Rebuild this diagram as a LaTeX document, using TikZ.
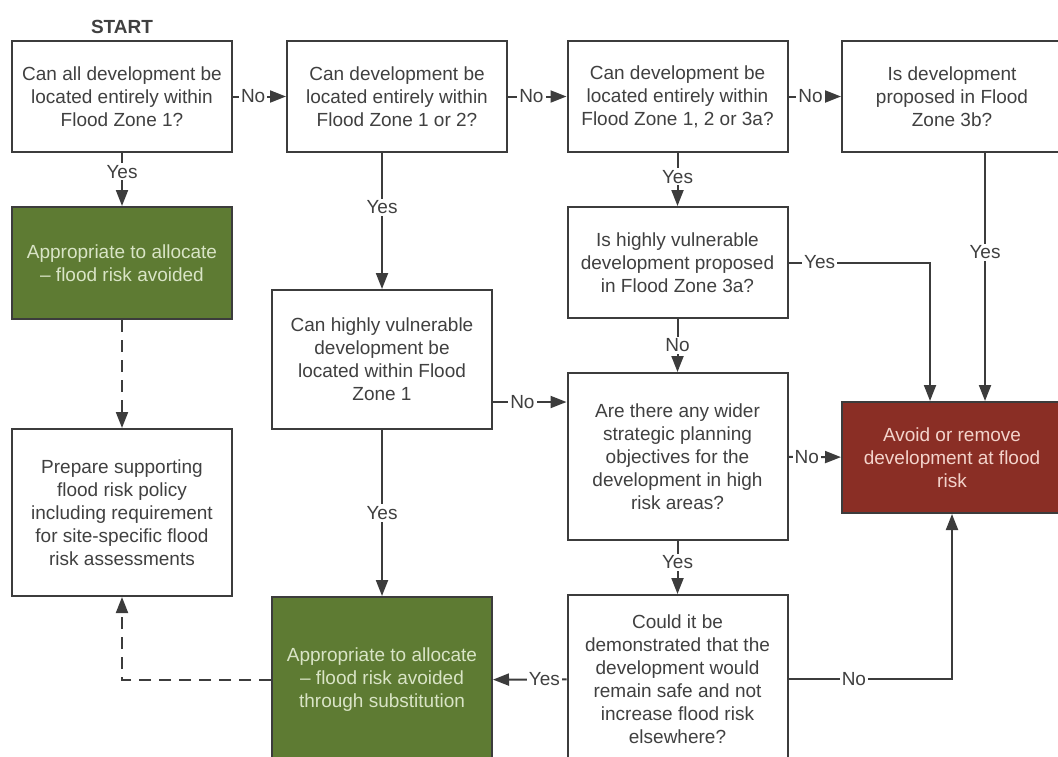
\documentclass[tikz,border=0pt]{standalone}
\usepackage{fontspec}
\setmainfont{Liberation Sans}
\usetikzlibrary{arrows.meta,positioning}
\definecolor{linegray}{HTML}{3C3C3C}
\definecolor{textgray}{HTML}{404040}
\definecolor{okgreen}{HTML}{5E7B33}
\definecolor{oktext}{HTML}{D9E4C6}
\definecolor{badred}{HTML}{8A2E25}
\definecolor{badtext}{HTML}{F3D3CB}
\begin{document}
\begin{tikzpicture}[x=0.5pt,y=-0.5pt,line width=1pt,color=linegray]
\tikzstyle{qbox}=[rectangle, draw=linegray, line width=1pt, fill=white,
text=textgray, align=center, inner sep=2pt,
minimum width=110pt, minimum height=55.5pt,
font=\fontsize{9.5}{11.5}\selectfont]
\tikzstyle{gbox}=[qbox, fill=okgreen, text=oktext]
\tikzstyle{rbox}=[qbox, fill=badred, text=badtext]
\tikzstyle{lbl}=[fill=white, inner sep=1pt, text=textgray,
font=\fontsize{9.5}{11.5}\selectfont]
\tikzstyle{dashline}=[dash pattern=on 6pt off 4pt]
\tikzset{>={Triangle[length=8pt,width=6pt]}}
\clip (0,0) rectangle (1058,756);

\node[text=textgray, font=\fontsize{9.5}{11.5}\selectfont\bfseries] at (122,27) (start) {START};
\node[qbox] at (122,96.5) (q1) {Can all development be\\located entirely within\\Flood Zone 1?};
\node[qbox] at (397,96.5) (q2) {Can development be\\located entirely within\\Flood Zone 1 or 2?};
\node[qbox] at (677.5,96.5) (q3) {Can development be\\located entirely within\\Flood Zone 1, 2 or 3a?};
\node[qbox] at (952,96.5) (q4) {Is development\\proposed in Flood\\Zone 3b?};
\node[gbox,minimum height=56pt] at (122,263) (g1) {Appropriate to allocate\\-- flood risk avoided};
\node[qbox] at (677.5,262.5) (q5) {Is highly vulnerable\\development proposed\\in Flood Zone 3a?};
\node[qbox,minimum height=69.5pt] at (382,359.5) (q6) {Can highly vulnerable\\development be\\located within Flood\\Zone 1};
\node[qbox,minimum height=83.5pt] at (677.5,456.5) (q7) {Are there any wider\\strategic planning\\objectives for the\\development in high\\risk areas?};
\node[rbox] at (952,457.5) (r) {Avoid or remove\\development at flood\\risk};
\node[qbox,minimum height=83.5pt] at (122,512.5) (p) {Prepare supporting\\flood risk policy\\including requirement\\for site-specific flood\\risk assessments};
\node[gbox,minimum height=83pt] at (382,680) (g2) {Appropriate to allocate\\-- flood risk avoided\\through substitution};
\node[qbox,minimum height=84pt] at (677.5,679) (q8) {Could it be\\demonstrated that the\\development would\\remain safe and not\\increase flood risk\\elsewhere?};

\path[->] (q1) edge node[lbl,pos=0.38] {No} (q2) ;
\path[->] (q2) edge node[lbl,pos=0.4] {No} (q3) ;
\path[->] (q3) edge node[lbl,pos=0.42] {No} (q4) ;
\path[->] (q1) edge node[lbl,pos=0.35] {Yes} (g1) ;
\path[->] (q3) edge node[lbl,pos=0.45] {Yes} (q5) ;
\path[->] (q5) edge node[lbl,pos=0.5] {No} (q7) ;
\path[->] (q7) edge node[lbl,pos=0.35] {No} (r) ;
\path[->] (q7) edge node[lbl,pos=0.4] {Yes} (q8) ;
\path[->] (q8) edge node[lbl,pos=0.3] {Yes} (g2) ;
\path[->] (q6) edge node[lbl,pos=0.5] {Yes} (g2) ;
\draw[->] (q2.south -| q6.north) -- node[lbl,pos=0.4] {Yes} (q6.north) ;
\draw[->] ([xshift=16.5pt]q4.south) -- node[lbl,pos=0.4] {Yes} ([xshift=16.5pt]r.north) ;
\draw[->] (q5.east) -| node[lbl,pos=0.11] {Yes} ([xshift=-11pt]r.north) ;
\draw[->] ([yshift=-21.25pt]q6.east) -- node[lbl,pos=0.4] {No} ([yshift=-21.25pt]q6.east -| q7.west) ;
\draw[->] (q8.east) -| node[lbl,pos=0.2] {No} (r.south) ;

\draw[->,dashline] (g1) -- (p) ;
\draw[->,dashline] (g2.west) -| (p.south) ;

\end{tikzpicture}
\end{document}
